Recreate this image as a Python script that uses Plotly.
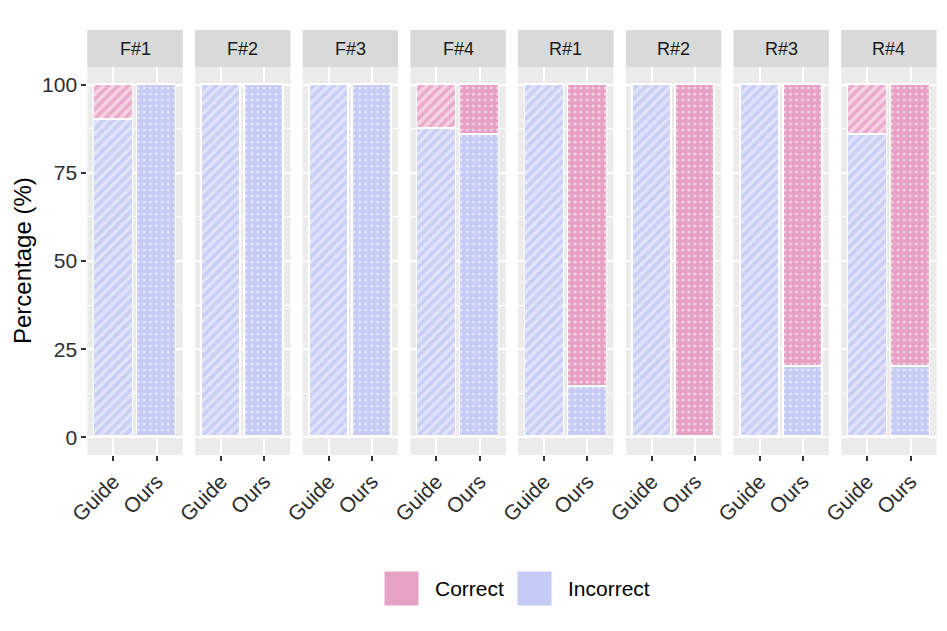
import plotly.graph_objects as go

# ---- data ----
panels = ["F#1", "F#2", "F#3", "F#4", "R#1", "R#2", "R#3", "R#4"]
methods = ["Guide", "Ours"]
guide_correct = [10, 0, 0, 12.5, 0, 0, 0, 14.3]
guide_incorrect = [90, 100, 100, 87.5, 100, 100, 100, 85.7]
ours_correct = [0, 0, 0, 14.3, 85.7, 100, 80, 80]
ours_incorrect = [100, 100, 100, 85.7, 14.3, 0, 20, 20]
y_ticks = [0, 25, 50, 75, 100]
y_minor = [12.5, 37.5, 62.5, 87.5]
statuses = ["Correct", "Incorrect"]

# ---- styling ----
OFF = 8  # page body margin
W, H = 947 - 2 * OFF, 631 - 2 * OFF
FONT = "Liberation Sans"
main_col = {"Correct": "#E6A2C5", "Incorrect": "#C6CBF5"}
# [Guide, Ours]
fg_col = {"Correct": ["#EAA9CA", "#F6D4E6"], "Incorrect": ["#C9CEF6", "#E4E7FB"]}
bg_col = {"Correct": ["#F6D3E4", "#E6A0C4"], "Incorrect": ["#E0E3FA", "#C6CBF5"]}

left, pw, step = 87.3, 95.4, 107.7
top, bottom = 67, 455
strip_top = 30


def px(x):
    return (x - OFF) / W


def py(y):
    return 1 - (y - OFF) / H


fig = go.Figure()
shapes = []
annotations = []

for i, p in enumerate(panels):
    xa = "x" if i == 0 else f"x{i + 1}"
    vals = {
        "Incorrect": [guide_incorrect[i], ours_incorrect[i]],
        "Correct": [guide_correct[i], ours_correct[i]],
    }
    for st in ["Incorrect", "Correct"]:
        yv = [v if v > 0 else None for v in vals[st]]
        fig.add_bar(
            x=methods, y=yv, xaxis=xa, yaxis="y", width=0.9,
            name=st, showlegend=False,
            marker=dict(
                color=main_col[st],
                line=dict(color="white", width=1.6),
                pattern=dict(
                    shape=["/", "."], fgcolor=fg_col[st], bgcolor=bg_col[st],
                    size=[7, 6], solidity=[0.5, 0.2], fillmode="replace",
                ),
            ),
        )
    x0 = left + i * step
    axname = "xaxis" if i == 0 else f"xaxis{i + 1}"
    fig.layout[axname] = dict(
        domain=[px(x0), px(x0 + pw)], anchor="y", type="category",
        categoryorder="array", categoryarray=methods, automargin=False,
        range=[-0.6, 1.6], showgrid=True, gridcolor="white", gridwidth=2,
        zeroline=False, showline=False, ticks="outside", ticklen=5,
        tickwidth=1.5, tickcolor="#333333", tickangle=-45,
        tickfont=dict(family=FONT, size=21, color="#2E2E2E"), fixedrange=True,
    )
    shapes.append(dict(
        type="rect", xref=f"{xa} domain", yref="paper", x0=0, x1=1,
        y0=py(top), y1=py(strip_top), fillcolor="#D9D9D9", line=dict(width=0),
        layer="below",
    ))
    annotations.append(dict(
        text=p, xref=f"{xa} domain", yref="paper", x=0.5,
        y=py((top + strip_top) / 2), showarrow=False,
        font=dict(family=FONT, size=18, color="#1A1A1A"),
        xanchor="center", yanchor="middle",
    ))

fig.layout["yaxis"] = dict(
    domain=[py(bottom), py(top)], anchor="x", range=[-5, 105],
    tickvals=y_ticks, ticktext=[str(t) for t in y_ticks], automargin=False,
    showgrid=True, gridcolor="white", gridwidth=2, zeroline=False,
    showline=False, ticks="outside", ticklen=5, tickwidth=1.5,
    tickcolor="#333333", tickfont=dict(family=FONT, size=21, color="#2E2E2E"),
    minor=dict(tickvals=y_minor, showgrid=True, gridcolor="white",
               gridwidth=1, ticks=""),
    fixedrange=True,
)

annotations.append(dict(
    text="Percentage (%)", xref="paper", yref="paper", x=px(22),
    y=py((top + bottom) / 2), textangle=-90, showarrow=False,
    font=dict(family=FONT, size=24, color="black"),
    xanchor="center", yanchor="middle",
))

# legend (keys drawn as shapes)
key_x = [384, 517]
text_x = [433, 566]
for st, kx, tx in zip(statuses, key_x, text_x):
    shapes.append(dict(
        type="rect", xref="paper", yref="paper", x0=px(kx), x1=px(kx + 35),
        y0=py(606), y1=py(571), fillcolor=main_col[st],
        line=dict(color="white", width=1),
    ))
    annotations.append(dict(
        text=st, xref="paper", yref="paper", x=px(tx), y=py(588.5),
        showarrow=False, xanchor="left", yanchor="middle",
        font=dict(family=FONT, size=21, color="black"),
    ))

fig.update_layout(
    width=W, height=H, autosize=False,
    margin=dict(l=0, r=0, t=0, b=0, autoexpand=False),
    paper_bgcolor="white", plot_bgcolor="#EBEBEB",
    barmode="stack", bargap=0, showlegend=False,
    shapes=shapes, annotations=annotations,
    font=dict(family=FONT),
)

fig.write_html("out.html")
